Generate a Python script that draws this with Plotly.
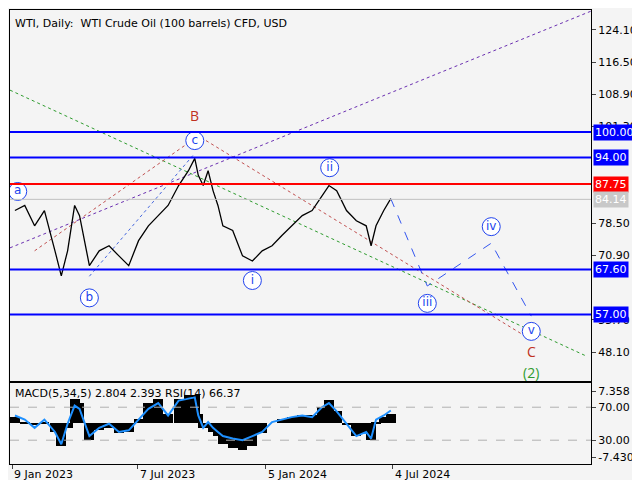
import plotly.graph_objects as go

dates = ["2023-01-13","2023-01-27","2023-02-10","2023-02-24","2023-03-11","2023-03-20","2023-03-29","2023-04-08","2023-04-15","2023-04-29","2023-05-13","2023-05-27","2023-06-10","2023-06-24","2023-07-08","2023-07-22","2023-08-05","2023-08-19","2023-09-03","2023-09-17","2023-09-26","2023-10-01","2023-10-08","2023-10-15","2023-10-22","2023-10-29","2023-11-05","2023-11-19","2023-12-03","2023-12-17","2023-12-31","2024-01-14","2024-01-28","2024-02-11","2024-02-26","2024-03-11","2024-03-25","2024-04-04","2024-04-15","2024-04-29","2024-05-13","2024-05-27","2024-06-03","2024-06-10","2024-06-21","2024-07-01"]
price = [81.5,82.7,77.9,81.5,72.0,66.1,72.0,82.7,80.3,68.5,72.0,73.2,70.8,68.5,74.4,77.9,80.3,82.7,87.4,90.9,93.8,89.8,87.4,90.9,86.2,82.7,77.9,76.8,70.8,69.6,72.0,73.2,75.6,77.9,80.3,81.5,85.0,87.4,86.2,81.5,79.1,77.9,73.2,77.9,81.5,84.3]
rsi = [60,55,45,55,40,25,50,72,68,35,45,50,40,42,55,68,75,60,78,80,82,60,45,52,45,40,35,32,30,35,40,52,55,58,60,58,70,75,65,50,35,40,32,55,60,66]
macd = [58,52,48,52,40,22,45,80,75,30,42,45,38,40,55,75,80,62,80,85,85,62,45,48,40,35,25,20,18,22,38,50,55,58,60,60,70,78,65,48,35,38,30,52,58,62]

levels = [100.0, 94.0, 87.75, 67.6, 57.0]
level_colors = ["#0000ff","#0000ff","#ff0000","#0000ff","#0000ff"]
last_price = 84.14
price_ticks = [124.10,116.50,108.90,101.30,78.50,70.90,55.70,48.10]

wave_labels = ["a","b","c","i","ii","iii","iv","v"]
wave_dates = ["2023-01-17","2023-04-29","2023-09-26","2023-12-17","2024-04-05","2024-08-22","2024-11-21","2025-01-17"]
wave_prices = [86.0,60.9,98.0,65.0,91.6,59.6,77.7,53.0]
proj_dates = ["2024-07-01","2024-08-22","2024-11-21","2025-01-17"]
proj_prices = [84.3,63.7,73.8,56.6]

x0, x1 = "2023-01-06", "2025-04-12"
fig = go.Figure()
BG = "#f4f4f4"

diag = [(["2023-01-06","2025-04-16"],[72.7,128.8],"#6a2fb0"),
        (["2023-01-06","2025-04-05"],[109.9,47.2],"#2e9b2e"),
        (["2023-02-10","2023-09-26"],[72.0,98.5],"#c05050"),
        (["2023-10-12","2025-01-20"],[98.0,50.7],"#c05050"),
        (["2023-04-29","2023-09-26"],[66.0,95.0],"#4466dd")]
for xs, ys, c in diag:
    fig.add_trace(go.Scatter(x=xs, y=ys, mode="lines", line=dict(color=c, width=1, dash="dot"), showlegend=False))
fig.add_trace(go.Scatter(x=proj_dates, y=proj_prices, mode="lines", line=dict(color="#3355ee", width=1, dash="dash"), showlegend=False))

for lv, c in zip(levels, level_colors):
    fig.add_shape(type="line", xref="paper", x0=0, x1=1, y0=lv, y1=lv, line=dict(color=c, width=2))
    fig.add_annotation(xref="paper", x=1.003, y=lv, text="%.2f" % lv, showarrow=False, xanchor="left",
                       bgcolor=c, font=dict(color="white", size=11, family="DejaVu Sans"), borderpad=1)
fig.add_shape(type="line", xref="paper", x0=0, x1=1, y0=last_price, y1=last_price, line=dict(color="#c0c0c0", width=1))
fig.add_annotation(xref="paper", x=1.003, y=last_price, text="%.2f" % last_price, showarrow=False, xanchor="left",
                   bgcolor="#c8c8c8", font=dict(color="white", size=11, family="DejaVu Sans"), borderpad=1)

fig.add_trace(go.Scatter(x=dates, y=price, mode="lines", line=dict(color="black", width=1.3), showlegend=False))

fig.add_trace(go.Scatter(x=wave_dates, y=wave_prices, mode="markers+text", text=wave_labels,
                         marker=dict(symbol="circle", size=18, color="white", line=dict(color="#2244ee", width=1)),
                         textfont=dict(color="#2244ee", size=12, family="DejaVu Sans"), showlegend=False))
fig.add_annotation(x="2023-09-26", y=104, text="B", showarrow=False, font=dict(color="#c03020", size=14))
fig.add_annotation(x="2025-01-17", y=48.2, text="C", showarrow=False, font=dict(color="#c03020", size=14))
fig.add_annotation(x="2025-01-17", y=43.2, text="(2)", showarrow=False, font=dict(color="#2e9b2e", size=14))

fig.add_trace(go.Bar(x=dates, y=[m-50 for m in macd], base=50, marker=dict(color="black", line=dict(width=0)),
                     width=14*86400000, xaxis="x2", yaxis="y2", showlegend=False))
fig.add_trace(go.Scatter(x=dates, y=rsi, mode="lines", line=dict(color="#1e90ff", width=2), xaxis="x2", yaxis="y2", showlegend=False))
for v in (70, 30):
    fig.add_shape(type="line", xref="x2 domain", yref="y2", x0=0, x1=1, y0=v, y1=v, line=dict(color="#b0b0b0", width=1, dash="dash"))

fig.add_annotation(xref="paper", yref="paper", x=0.005, y=0.99, text="WTI, Daily:  WTI Crude Oil (100 barrels) CFD, USD",
                   showarrow=False, xanchor="left", yanchor="top", font=dict(size=11, color="black", family="DejaVu Sans"))
fig.add_annotation(xref="paper", yref="paper", x=0.005, y=0.215, text="MACD(5,34,5) 2.804 2.393 RSI(14) 66.37",
                   showarrow=False, xanchor="left", yanchor="top", font=dict(size=11, color="black", family="DejaVu Sans"))
for d, t in [("2023-01-09","9 Jan 2023"),("2023-07-07","7 Jul 2023"),("2024-01-05","5 Jan 2024"),("2024-07-04","4 Jul 2024")]:
    fig.add_annotation(x=d, xref="x2", yref="paper", y=0.045, text=t, showarrow=False, xanchor="left", yanchor="top",
                       font=dict(size=11, color="black", family="DejaVu Sans"))

ax = dict(showgrid=False, zeroline=False, showline=True, mirror=True, linecolor="black", linewidth=1, automargin=False)
fig.update_layout(
    width=640, height=480, margin=dict(l=2, r=57, t=2, b=0, autoexpand=False), paper_bgcolor=BG, plot_bgcolor=BG,
    bargap=0, showlegend=False,
    xaxis=dict(ax, range=[x0, x1], domain=[0, 1], showticklabels=False, ticks=""),
    yaxis=dict(ax, range=[41.2, 128.8], domain=[0.223, 1], side="right", tickvals=price_ticks,
               ticktext=["%.2f" % t for t in price_ticks], ticks="outside", ticklen=4,
               tickfont=dict(size=11, family="DejaVu Sans", color="black")),
    xaxis2=dict(ax, range=[x0, x1], anchor="y2", showticklabels=False, ticks="outside", ticklen=4,
                tickvals=["2023-01-09","2023-07-07","2024-01-05","2024-07-04"]),
    yaxis2=dict(ax, range=[1, 99], domain=[0.05, 0.219], side="right", anchor="x2",
                tickvals=[89.4, 70, 30, 9.6], ticktext=["7.358","70.00","30.00","-7.430"], ticks="outside", ticklen=4,
                tickfont=dict(size=11, family="DejaVu Sans", color="black")),
)
fig.write_html("out.html")
